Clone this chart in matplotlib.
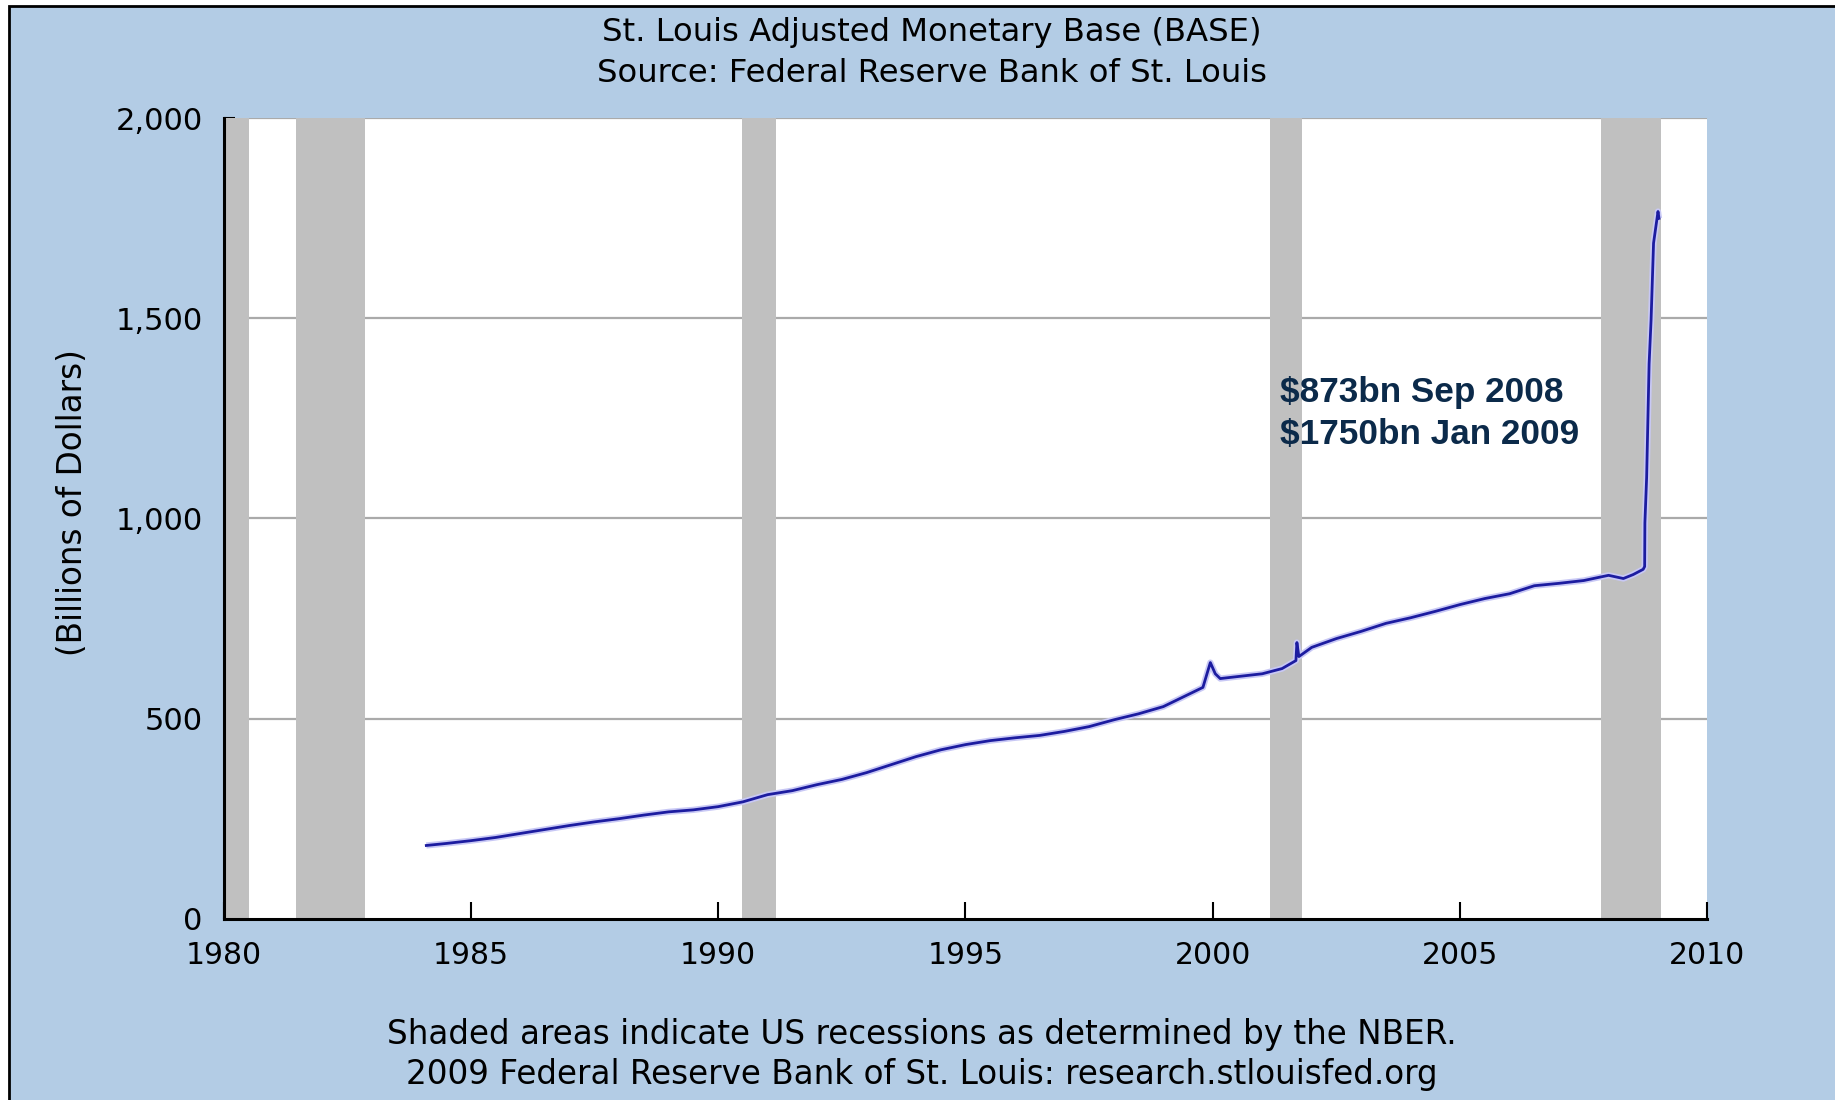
import matplotlib.pyplot as plt
from matplotlib.patches import Rectangle

# weekly-ish readings of the adjusted monetary base, billions of dollars
years = [1984.10, 1984.5, 1985.0, 1985.5, 1986.0, 1986.5, 1987.0, 1987.5, 1988.0, 1988.5,
         1989.0, 1989.5, 1990.0, 1990.5, 1991.0, 1991.5, 1992.0, 1992.5, 1993.0, 1993.5,
         1994.0, 1994.5, 1995.0, 1995.5, 1996.0, 1996.5, 1997.0, 1997.5, 1998.0, 1998.5,
         1999.0, 1999.5, 1999.8, 1999.95, 2000.05, 2000.15, 2000.5, 2001.0, 2001.4, 2001.68,
         2001.70, 2001.74, 2002.0, 2002.5, 2003.0, 2003.5, 2004.0, 2004.5, 2005.0, 2005.5,
         2006.0, 2006.5, 2007.0, 2007.5, 2008.0, 2008.3, 2008.5, 2008.70, 2008.73, 2008.735,
         2008.77, 2008.82, 2008.86, 2008.91, 2009.0, 2009.02]
base = [183, 188, 195, 203, 213, 223, 233, 242, 250, 259,
        267, 272, 280, 292, 310, 320, 335, 348, 365, 385,
        405, 422, 435, 445, 452, 458, 468, 480, 497, 512,
        530, 560, 578, 640, 612, 600, 605, 612, 625, 645,
        690, 655, 678, 700, 718, 738, 752, 768, 785, 800,
        812, 832, 838, 845, 858, 850, 860, 873, 880, 989,
        1102, 1386, 1496, 1688, 1767, 1750]

# NBER recessions (start, end)
recessions = [(1980.0, 1980.52), (1981.47, 1982.86), (1990.48, 1991.17),
              (2001.15, 2001.81), (2007.85, 2009.07)]

x_ticks = [1980, 1985, 1990, 1995, 2000, 2005, 2010]
y_ticks = [0, 500, 1000, 1500, 2000]
y_labels = ['0', '500', '1,000', '1,500', '2,000']

bg = '#B3CCE5'
fig = plt.figure(figsize=(18.35, 11), dpi=100, facecolor='white')
fig.patches.append(Rectangle((0.005, -0.01), 1.01, 1.0047, transform=fig.transFigure,
                             facecolor=bg, edgecolor='black', linewidth=2, zorder=-10))

ax = fig.add_axes([0.1218, 0.1648, 0.8087, 0.7277])
ax.set_facecolor('white')
ax.set_xlim(1980, 2010)
ax.set_ylim(0, 2000)

for y in y_ticks[1:]:
    ax.axhline(y, color='#AAAAAA', lw=1.6, zorder=1)
for start, end in recessions:
    ax.axvspan(start, end, color='#C0C0C0', lw=0, zorder=2)

ax.plot(years, base, color='#C8C8F5', lw=4.5, zorder=3, solid_capstyle='butt')
ax.plot(years, base, color='#1C1CA0', lw=2, zorder=4)

ax.text(2001.36, 1316, '$873bn Sep 2008', fontsize=25.3, fontweight='bold',
        family='Liberation Sans', color='#0B2A4A', va='center', zorder=5)
ax.text(2001.36, 1210, '$1750bn Jan 2009', fontsize=25.3, fontweight='bold',
        family='Liberation Sans', color='#0B2A4A', va='center', zorder=5)

for s in ['top', 'right']:
    ax.spines[s].set_visible(False)
for s in ['left', 'bottom']:
    ax.spines[s].set_linewidth(2.2)
    ax.spines[s].set_zorder(6)

ax.set_xticks(x_ticks)
ax.set_yticks(y_ticks)
ax.set_yticklabels(y_labels)
ax.tick_params(axis='x', direction='in', length=12, width=1.5, pad=16, labelsize=21.5)
ax.tick_params(axis='y', direction='in', length=8, width=1.5, pad=15, labelsize=22)

fig.text(0.0396, 0.5427, '(Billions of Dollars)', rotation=90, fontsize=23.5,
         ha='center', va='center')
fig.text(0.508, 0.970, 'St. Louis Adjusted Monetary Base (BASE)', fontsize=23.2,
         ha='center', va='center')
fig.text(0.508, 0.933, 'Source: Federal Reserve Bank of St. Louis', fontsize=23.2,
         ha='center', va='center')
fig.text(0.5026, 0.0595, 'Shaded areas indicate US recessions as determined by the NBER.',
         fontsize=23.5, ha='center', va='center')
fig.text(0.5026, 0.0236, '2009 Federal Reserve Bank of St. Louis: research.stlouisfed.org',
         fontsize=23.5, ha='center', va='center')

fig.savefig('out.png', dpi=100, facecolor=fig.get_facecolor())
